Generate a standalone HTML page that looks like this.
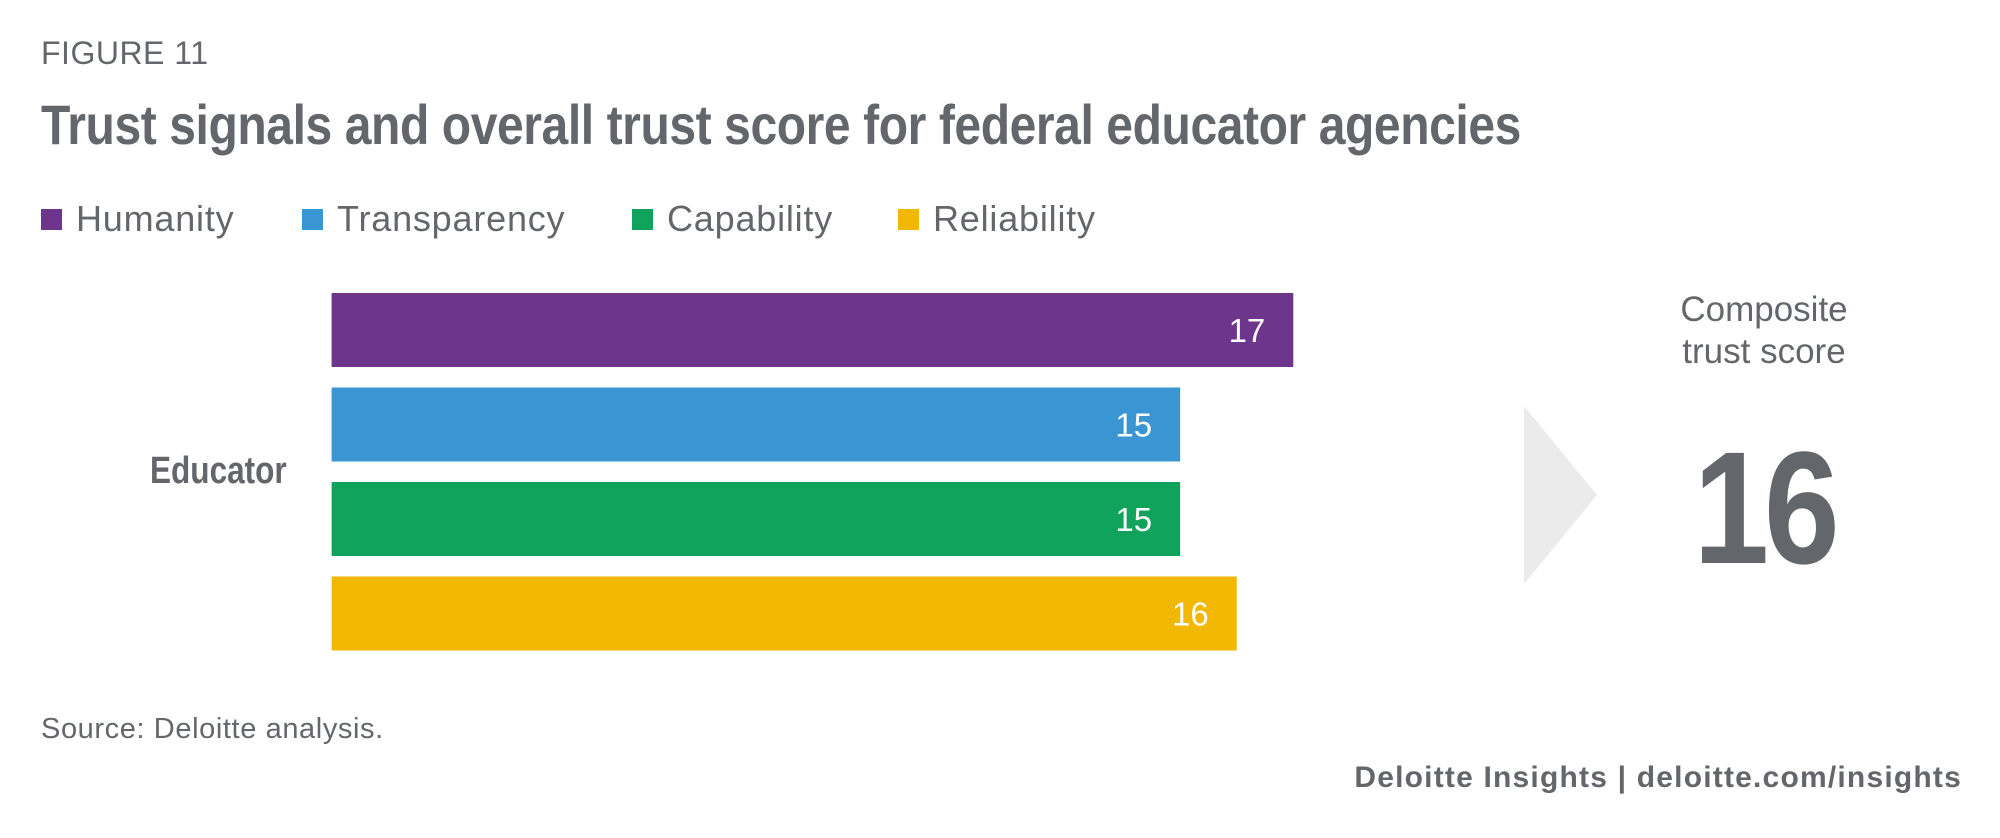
<!DOCTYPE html>
<html><head><meta charset="utf-8"><style>
body{margin:0;width:2000px;height:838px;background:#fff;overflow:hidden;font-family:"Liberation Sans",sans-serif;color:#63666a;position:relative}
.t{position:absolute;white-space:nowrap}
</style></head><body>
<div class="t" style="left:41px;top:35px;font-size:32px;letter-spacing:0.5px">FIGURE 11</div>
<div class="t" style="left:41px;top:92px;font-size:56px;font-weight:bold;transform:scaleX(0.858);transform-origin:left top;letter-spacing:-0.5px">Trust signals and overall trust score for federal educator agencies</div>
<div id="legend"></div>
<svg id="chart" width="2000" height="838" style="position:absolute;left:0;top:0">
<polygon points="1524,406 1597,495 1524,584" fill="#ebebeb"/>
</svg>
<div class="t" style="left:150px;top:450px;font-size:38px;font-weight:bold;transform:scaleX(0.83);transform-origin:left top">Educator</div>
<div class="t" style="left:1614px;top:289px;width:300px;text-align:center;font-size:35px;line-height:42px">Composite<br>trust score</div>
<div class="t" style="left:1614px;top:416px;width:300px;text-align:center;font-size:160px;font-weight:bold;transform:scaleX(0.85);letter-spacing:-6px">16</div>
<div class="t" style="left:41px;top:713px;font-size:29px;letter-spacing:0.6px">Source: Deloitte analysis.</div>
<div class="t" style="right:38px;top:761px;font-size:30px;font-weight:bold;letter-spacing:1.2px">Deloitte Insights | deloitte.com/insights</div>
<script>
const categories=["Humanity","Transparency","Capability","Reliability"];
const values=[17,15,15,16];
const colors=["#6d358b","#3a96d3","#0fa35b","#f2b700"];
const svg=document.getElementById('chart');
const NS="http://www.w3.org/2000/svg";
const x0=331.6, unit=56.57;
function xs(v){return x0+v*unit;}
function ys(i){return 293+i*94.5;}
const bh=74;
values.forEach((v,i)=>{
 const r=document.createElementNS(NS,'rect');
 r.setAttribute('x',x0);r.setAttribute('y',ys(i));r.setAttribute('width',xs(v)-x0);r.setAttribute('height',bh);r.setAttribute('fill',colors[i]);
 
 
 svg.appendChild(r);
 const t=document.createElementNS(NS,'text');
 t.setAttribute('x',xs(v)-28);t.setAttribute('y',ys(i)+bh/2+12);t.setAttribute('text-anchor','end');
 t.setAttribute('fill','#fff');t.setAttribute('font-size','33');t.setAttribute('font-family','Liberation Sans, sans-serif');
 t.textContent=v;
 
 
 svg.appendChild(t);
});
const lg=document.getElementById('legend');
const lx=[41,302,632,898];
categories.forEach((c,i)=>{
 const d=document.createElement('div');
 d.className='t';
 d.style.cssText=`left:${lx[i]}px;top:198px;font-size:36px;letter-spacing:0.8px;display:flex;align-items:center`;
 d.innerHTML=`<span style="display:inline-block;width:21px;height:21px;background:${colors[i]};margin-right:14px"></span>${c}`;
 
 
 lg.appendChild(d);
});
</script>
</body></html>
